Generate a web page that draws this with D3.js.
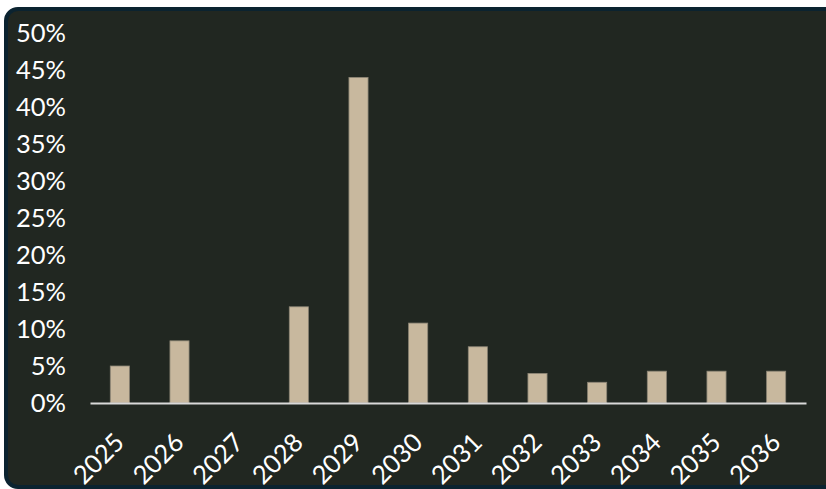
<!DOCTYPE html>
<html>
<head>
<meta charset="utf-8">
<script src="https://cdn.jsdelivr.net/npm/d3@7"></script>
<style>
  html, body { margin: 0; padding: 0; background: #ffffff; }
  svg { display: block; }
  text { font-family: Lato, "Noto Sans", sans-serif; }
</style>
</head>
<body>
<svg id="chart" width="826" height="489"></svg>
<script>
const categories = ["2025","2026","2027","2028","2029","2030","2031","2032","2033","2034","2035","2036"];
const values = [5.0, 8.4, 0, 13.0, 44.0, 10.8, 7.6, 4.0, 2.8, 4.3, 4.3, 4.3];
const yTicks = [0, 5, 10, 15, 20, 25, 30, 35, 40, 45, 50];

const svg = d3.select("#chart");

// card
svg.append("rect")
  .attr("x", 6).attr("y", 9)
  .attr("width", 840).attr("height", 478)
  .attr("rx", 12).attr("ry", 12)
  .attr("fill", "#212721")
  .attr("stroke", "#0b2330")
  .attr("stroke-width", 4);

const x = d3.scaleBand().domain(categories).range([90, 806]).paddingInner(0.68).paddingOuter(0.34);
const y = d3.scaleLinear().domain([0, 50]).range([403, 33]);

// bars
svg.append("g").selectAll("rect").data(categories.map((c, i) => ({c, v: values[i]})))
  .join("rect")
  .attr("x", d => x(d.c))
  .attr("y", d => y(d.v))
  .attr("width", x.bandwidth())
  .attr("height", d => y(0) - y(d.v))
  .attr("fill", "#c8b89e")
  .attr("stroke", "#8c8576")
  .attr("stroke-width", 0.8)
  .style("display", d => d.v > 0 ? null : "none");

// y axis
const yAxis = svg.append("g")
  .attr("transform", "translate(90,0)")
  .call(d3.axisLeft(y).tickValues(yTicks).tickFormat(d => d + "%").tickSize(0).tickPadding(24));
yAxis.select(".domain").remove();
yAxis.selectAll("text")
  .attr("fill", "#ffffff")
  .style("font-size", "25.5px")
  .style("font-family", "Lato, sans-serif");

// x axis
const xAxis = svg.append("g")
  .attr("transform", "translate(0,403)")
  .call(d3.axisBottom(x).tickSize(0).tickSizeOuter(0));
xAxis.select(".domain")
  .attr("stroke", "#d9d9d9")
  .attr("stroke-width", 2);
xAxis.selectAll("text")
  .attr("fill", "#ffffff")
  .style("font-size", "25.5px")
  .style("font-family", "Lato, sans-serif")
  .attr("text-anchor", "end")
  .attr("dy", null)
  .attr("y", null)
  .attr("transform", "translate(6,41) rotate(-45)");
</script>
</body>
</html>
